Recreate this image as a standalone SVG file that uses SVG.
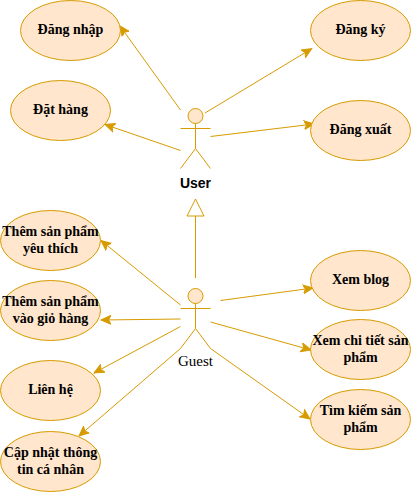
<svg xmlns="http://www.w3.org/2000/svg" width="411" height="492" viewBox="0 0 411 492">
<style>
.uc ellipse{fill:#ffe6cc;stroke:#d79b00;stroke-width:1}
.actor ellipse{fill:#ffe6cc;stroke:#d79b00;stroke-width:1}
.actor path{fill:none;stroke:#d79b00;stroke-width:1}
text{font-family:"Liberation Serif","Times New Roman",serif;font-size:14px;font-weight:bold;fill:#000;text-anchor:middle}
.conn line{stroke:#d79b00;stroke-width:1;fill:none}
.conn .a{marker-end:url(#arrow)}
</style>
<defs>
<marker id="arrow" markerUnits="userSpaceOnUse" markerWidth="12" markerHeight="12" refX="10" refY="5" orient="auto" viewBox="0 0 12 10">
<path d="M0 0.5L10 5L0 9.500L2.500 5Z" fill="#d79b00" stroke="#d79b00" stroke-width="1"/>
</marker>
</defs>
<g id="connectors" class="conn">
<line class="a" x1="180.500" y1="110" x2="120" y2="26"/>
<line class="a" x1="180.500" y1="150.500" x2="105" y2="124.500"/>
<line class="a" x1="205" y1="113" x2="311.700" y2="48.700"/>
<line class="a" x1="210.500" y1="136.500" x2="314" y2="124"/>
<line x1="195.500" y1="278" x2="195.500" y2="216"/>
<path d="M195.500 199L204 216H187Z" fill="#fff" stroke="#d79b00"/>
<line class="a" x1="180.500" y1="305" x2="101" y2="240.500"/>
<line class="a" x1="180.500" y1="319" x2="101" y2="320"/>
<line class="a" x1="180.500" y1="326.500" x2="94" y2="373"/>
<line class="a" x1="180.500" y1="348.500" x2="79" y2="436"/>
<line class="a" x1="220.500" y1="300.500" x2="313" y2="288"/>
<line class="a" x1="210.500" y1="322" x2="311" y2="350"/>
<line class="a" x1="210.500" y1="348.500" x2="310" y2="419"/>
</g>
<g id="dang-nhap" class="uc"><ellipse cx="70.500" cy="30.500" rx="50" ry="30"/><text x="70.500" y="34">Đăng nhập</text></g>
<g id="dat-hang" class="uc"><ellipse cx="60.500" cy="110.500" rx="50" ry="30"/><text x="60.500" y="114">Đặt hàng</text></g>
<g id="dang-ky" class="uc"><ellipse cx="360.500" cy="30.500" rx="50" ry="30"/><text x="360.500" y="34">Đăng ký</text></g>
<g id="dang-xuat" class="uc"><ellipse cx="360.500" cy="130.500" rx="50" ry="30"/><text x="360.500" y="134">Đăng xuất</text></g>
<g id="them-yeu-thich" class="uc"><ellipse cx="50.500" cy="240.500" rx="50" ry="30"/><text x="50.500" y="236">Thêm sản phẩm</text><text x="50.500" y="253">yêu thích</text></g>
<g id="them-gio-hang" class="uc"><ellipse cx="50.500" cy="310.500" rx="50" ry="30"/><text x="50.500" y="306">Thêm sản phẩm</text><text x="50.500" y="323">vào giỏ hàng</text></g>
<g id="lien-he" class="uc"><ellipse cx="50.500" cy="390.500" rx="50" ry="30"/><text x="50.500" y="394">Liên hệ</text></g>
<g id="cap-nhat" class="uc"><ellipse cx="50.500" cy="461.500" rx="50" ry="30"/><text x="50.500" y="457">Cập nhật thông</text><text x="50.500" y="474">tin cá nhân</text></g>
<g id="xem-blog" class="uc"><ellipse cx="360.500" cy="280.500" rx="50" ry="30"/><text x="360.500" y="284">Xem blog</text></g>
<g id="xem-chi-tiet" class="uc"><ellipse cx="360.500" cy="349.500" rx="50" ry="30"/><text x="360.500" y="345">Xem chi tiết sản</text><text x="360.500" y="362">phẩm</text></g>
<g id="tim-kiem" class="uc"><ellipse cx="360.500" cy="419.500" rx="50" ry="30"/><text x="360.500" y="415">Tìm kiếm sản</text><text x="360.500" y="432">phẩm</text></g>
<g id="user" class="actor"><ellipse cx="195.500" cy="116" rx="7.500" ry="7.500"/><path d="M195.500 123.500V148.500M180.500 128.500H210.500M195.500 148.500L180.500 168.500M195.500 148.500L210.500 168.500"/><text x="195.500" y="188" style="font-family:'Liberation Sans',Arial,sans-serif">User</text></g>
<g id="guest" class="actor"><ellipse cx="195.500" cy="296" rx="7.500" ry="7.500"/><path d="M195.500 303.500V328.500M180.500 308.500H210.500M195.500 328.500L180.500 348.500M195.500 328.500L210.500 348.500"/><text x="195.500" y="366" style="font-size:15px;font-weight:normal">Guest</text></g>
</svg>
